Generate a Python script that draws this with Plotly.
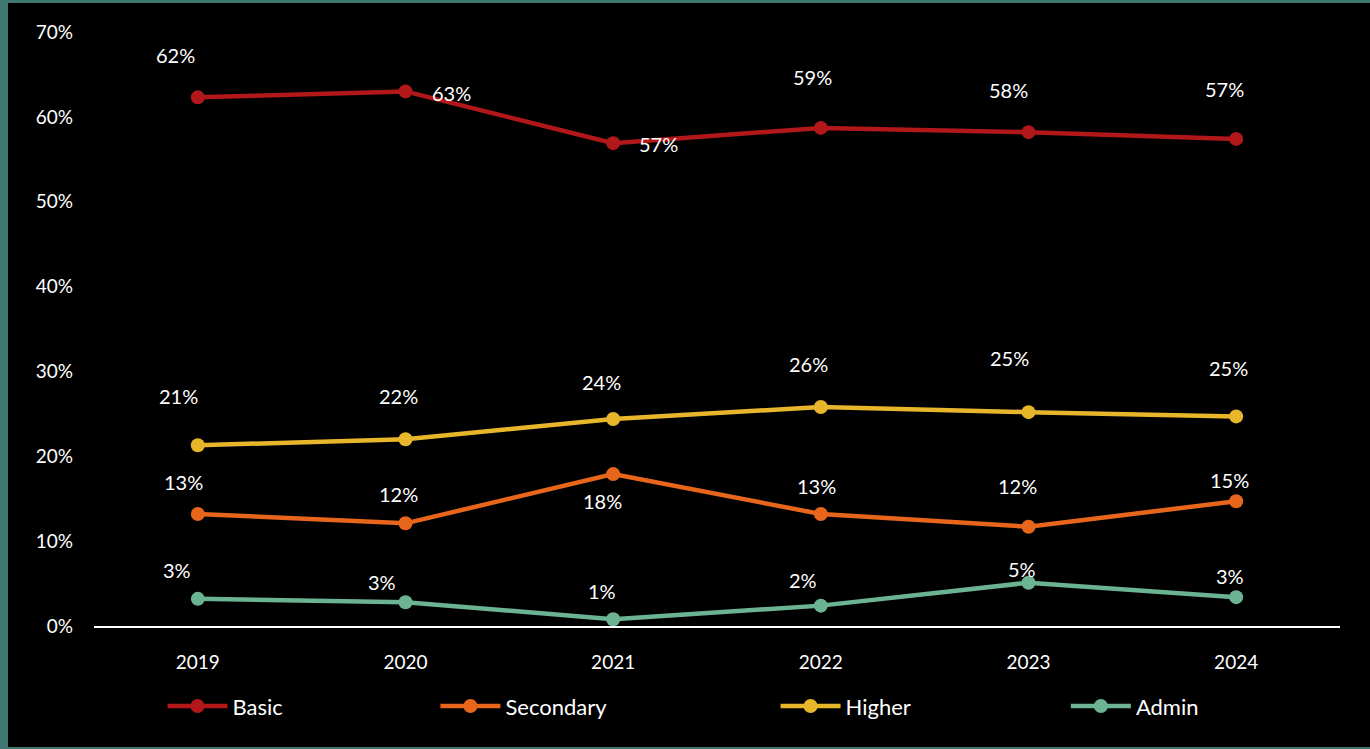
import plotly.graph_objects as go

years = ["2019", "2020", "2021", "2022", "2023", "2024"]
basic = [0.623, 0.630, 0.569, 0.587, 0.582, 0.574]
secondary = [0.132, 0.121, 0.179, 0.132, 0.117, 0.147]
higher = [0.213, 0.220, 0.244, 0.258, 0.252, 0.247]
admin = [0.032, 0.028, 0.008, 0.024, 0.051, 0.034]

names = ["Basic", "Secondary", "Higher", "Admin"]
colors = ["#B2171A", "#E8651C", "#E8B62B", "#6BB392"]

# label offsets (px) relative to each point
offsets = {
    "Basic": [(-22, 42), (46, -2), (45, -1), (-8, 51), (-20, 42), (-12, 50)],
    "Secondary": [(-14, 32), (-7, 29), (-11, -27), (-4, 28), (-11, 41), (-7, 21)],
    "Higher": [(-19, 49), (-7, 43), (-12, 37), (-12, 43), (-19, 54), (-8, 48)],
    "Admin": [(-21, 29), (-24, 20), (-11, 28), (-18, 26), (-7, 14), (-6, 21)],
}

series = [basic, secondary, higher, admin]
legend_x = [0.055, 0.274, 0.547, 0.780]

font = "Lato"
fig = go.Figure()
annotations = []
for i, (name, vals, col) in enumerate(zip(names, series, colors)):
    lg = "legend" if i == 0 else f"legend{i+1}"
    fig.add_trace(go.Scatter(
        x=years, y=vals, name=name, mode="lines+markers",
        line=dict(color=col, width=4.5), marker=dict(color=col, size=14),
        legend=lg, hoverinfo="skip",
    ))
    for idx, (v, (dx, dy)) in enumerate(zip(vals, offsets[name])):
        annotations.append(dict(
            x=idx, y=v, xref="x", yref="y", text=f"{round(v*100):.0f}%",
            showarrow=False, xshift=dx, yshift=dy,
            font=dict(color="white", size=20, family=font),
        ))

legend_common = dict(orientation="h", yanchor="middle", y=-0.135, xanchor="left",
                     font=dict(color="white", size=22, family=font),
                     bgcolor="rgba(0,0,0,0)", itemwidth=60, itemclick=False)
layout_legends = {}
for i in range(4):
    key = "legend" if i == 0 else f"legend{i+1}"
    layout_legends[key] = dict(legend_common, x=legend_x[i])

fig.update_layout(
    width=1370, height=749,
    margin=dict(l=94, r=30, t=32, b=123),
    paper_bgcolor="#3D776F", plot_bgcolor="black",
    showlegend=True,
    annotations=annotations,
    shapes=[dict(type="rect", xref="paper", yref="paper",
                 x0=-0.0690, x1=1.2, y0=-0.2037, y1=1.0488,
                 fillcolor="black", line=dict(width=0), layer="below")],
    xaxis=dict(type="category", range=[-0.5, 5.5], showgrid=False, zeroline=False,
               showline=True, linecolor="white", linewidth=2,
               tickfont=dict(color="white", size=19, family=font),
               ticks="", ticklabelstandoff=18),
    yaxis=dict(range=[0, 0.7], dtick=0.1, tickformat=".0%", showgrid=False,
               zeroline=False, showline=False,
               tickfont=dict(color="white", size=19, family=font),
               ticks="", ticklabelstandoff=20),
    **layout_legends,
)

fig.write_html("out.html")
